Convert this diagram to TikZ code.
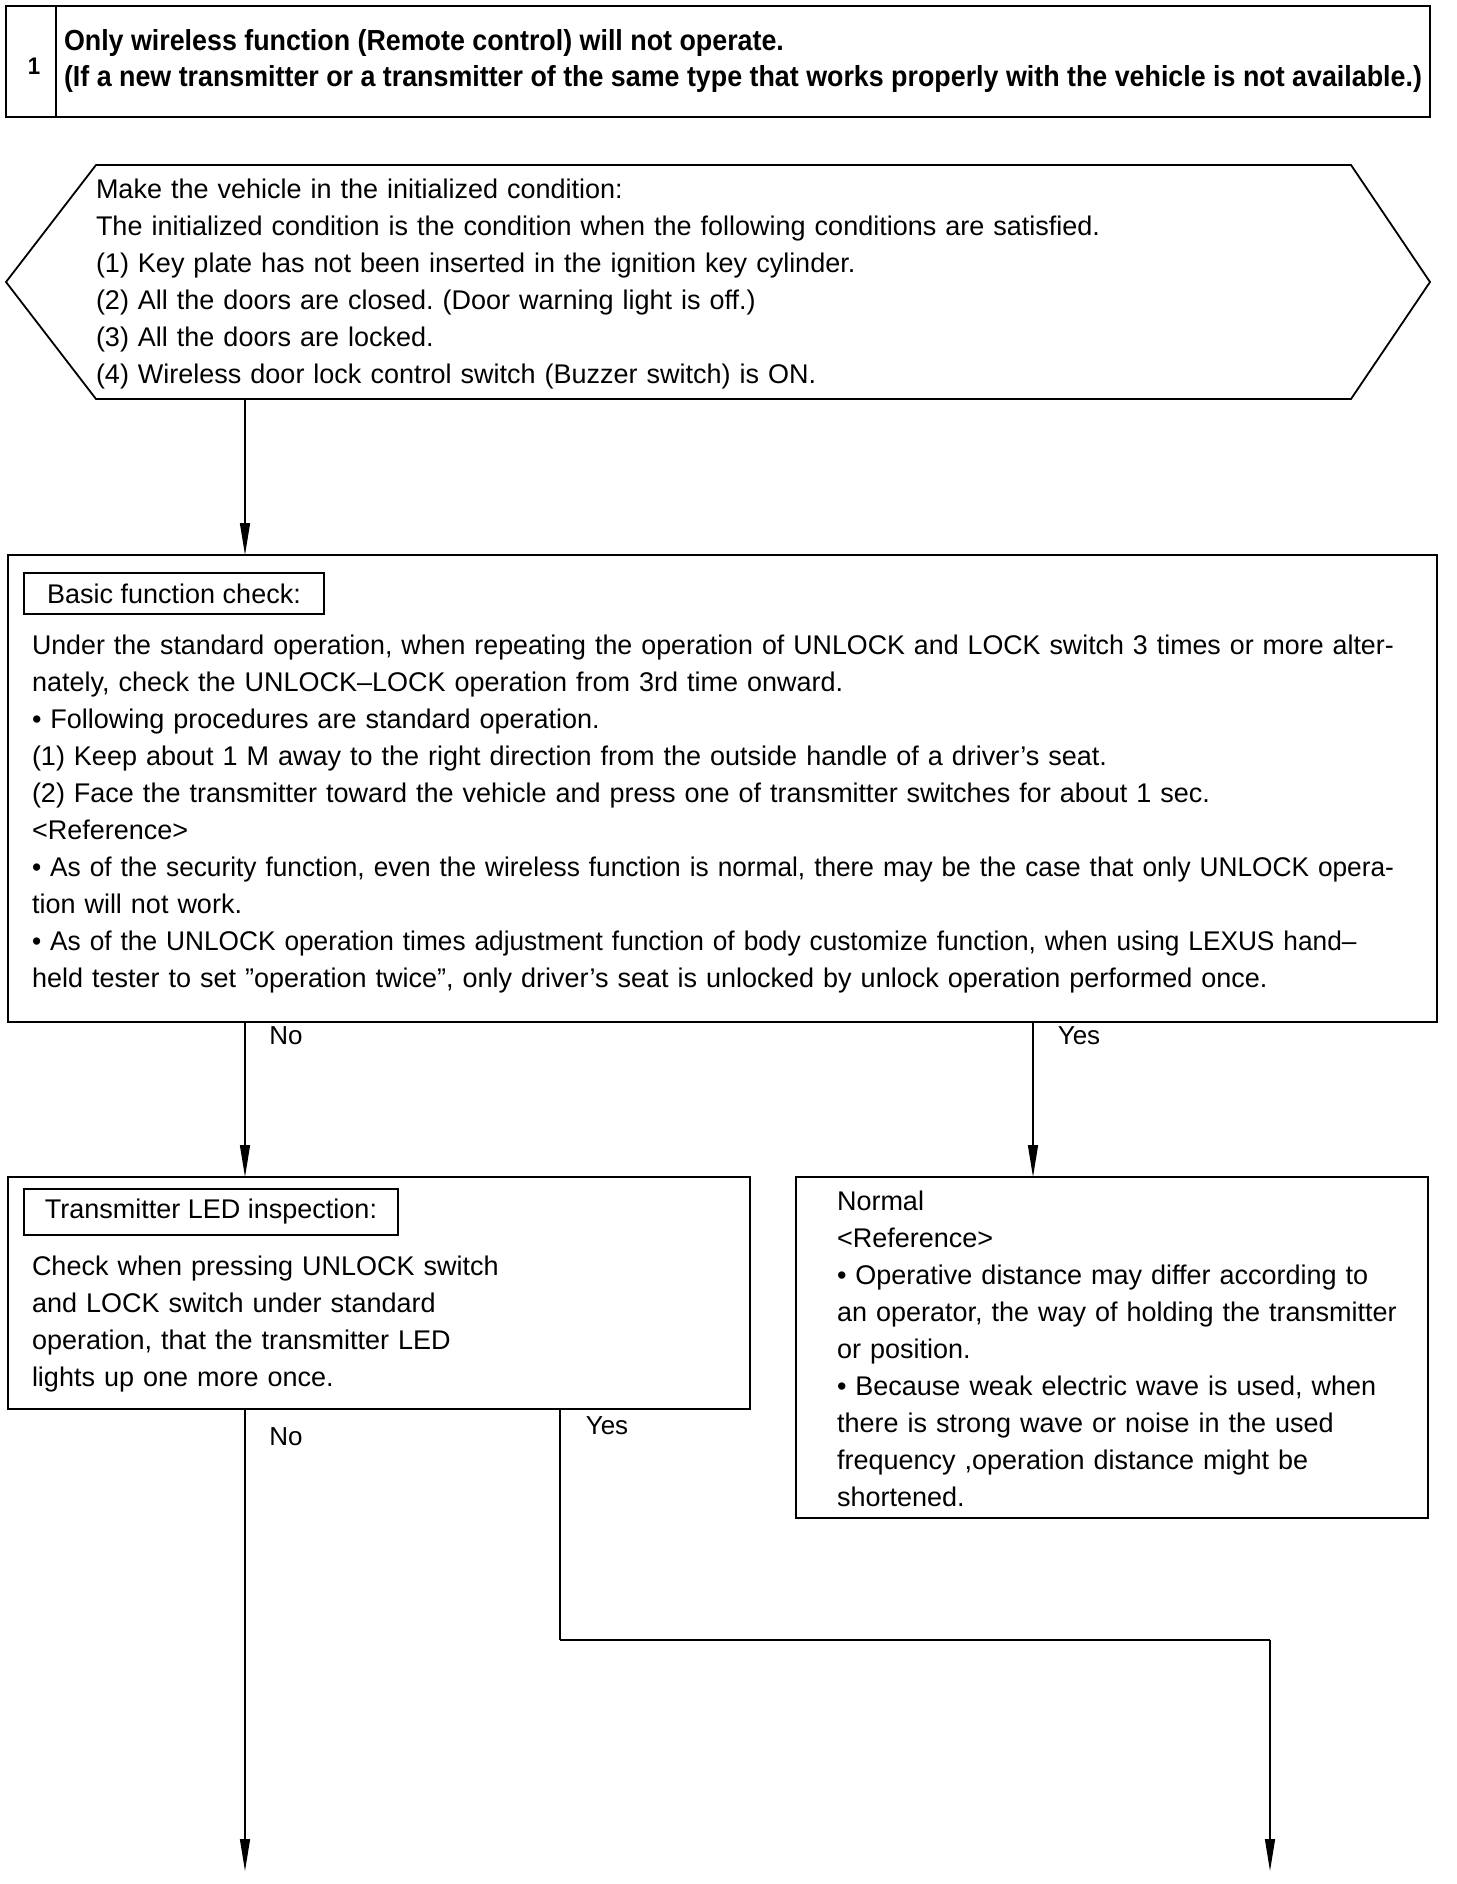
\documentclass[tikz,border=0pt]{standalone}
\usepackage{fontspec}
\setmainfont{Liberation Sans}
\newfontfamily\hdfont{Liberation Sans}[FakeStretch=0.925,Ligatures=TeX]
\newfontfamily\narrowfont{Liberation Sans}[FakeStretch=0.972,Ligatures=TeX]
\newfontfamily\slightfont{Liberation Sans}[FakeStretch=0.992,Ligatures=TeX]
\usetikzlibrary{arrows.meta}
\newcommand{\firststrut}{\rule{0pt}{24pt}}
\frenchspacing
\begin{document}
\begin{tikzpicture}[x=1pt,y=-1pt,
  every node/.style={inner sep=0pt, outer sep=0pt},
  panel/.style={draw, line width=1.8pt, anchor=north west},
  txt/.style={font=\frenchspacing\fontsize{27}{37}\selectfont, text width=#1, align=left, anchor=north west},
  hdtext/.style={font=\hdfont\bfseries\fontsize{29}{32}\selectfont, anchor=base west},
  lbl/.style={font=\fontsize{26}{30}\selectfont},
  conn/.style={line width=1.4pt},
  arr/.style={conn, -{Triangle[length=32pt,width=10pt]}}]
\useasboundingbox (0,0) rectangle (1456,1884);
\fill[white] (0,0) rectangle (1456,1884);

% header
\node[panel, line width=2.6pt, minimum width=1424pt, minimum height=111pt] (hdr) at (6,6) {};
\draw[line width=1.4pt] ([xshift=50pt]hdr.north west) -- ([xshift=50pt]hdr.south west);
\node[font=\hdfont\bfseries\fontsize{24}{26}\selectfont] (num) at (34,66) {1};
\node[hdtext] (h1) at (64,51) {Only wireless function (Remote control) will not operate.};
\node[hdtext] (h2) at (64,86) {(If a new transmitter or a transmitter of the same type that works properly with the vehicle is not available.)};

% hexagon
\node[minimum width=1424pt, minimum height=234pt, anchor=north west] (hex) at (6,165) {};
\draw[line width=1.8pt] (hex.west) -- ([xshift=90pt]hex.north west) -- ([xshift=-79pt]hex.north east)
  -- (hex.east) -- ([xshift=-79pt]hex.south east) -- ([xshift=90pt]hex.south west) -- cycle;
\node[txt=1250pt] (hext) at (96,174) {\firststrut Make the vehicle in the initialized condition:\\
The initialized condition is the condition when the following conditions are satisfied.\\
(1) Key plate has not been inserted in the ignition key cylinder.\\
(2) All the doors are closed. (Door warning light is off.)\\
(3) All the doors are locked.\\
(4) Wireless door lock control switch (Buzzer switch) is ON.};

% basic function check
\node[panel, minimum width=1429pt, minimum height=467pt] (basic) at (8,555) {};
\node[panel, line width=1.4pt, minimum width=300pt, minimum height=41pt, font=\fontsize{27}{30}\selectfont] (basict) at (24,573) {Basic function check:};
\node[txt=1400pt] (basicx) at (32,630) {\firststrut{\slightfont Under the standard operation, when repeating the operation of UNLOCK and LOCK switch 3 times or more alter-}\\
nately, check the UNLOCK–LOCK operation from 3rd time onward.\\
\textbullet\ Following procedures are standard operation.\\
(1) Keep about 1 M away to the right direction from the outside handle of a driver’s seat.\\
(2) Face the transmitter toward the vehicle and press one of transmitter switches for about 1 sec.\\
<Reference>\\
{\narrowfont\textbullet\ As of the security function, even the wireless function is normal, there may be the case that only UNLOCK opera-}\\
tion will not work.\\
{\narrowfont\textbullet\ As of the UNLOCK operation times adjustment function of body customize function, when using LEXUS hand–}\\
held tester to set "operation twice", only driver’s seat is unlocked by unlock operation performed once.};

% transmitter LED inspection
\node[panel, minimum width=742pt, minimum height=232pt] (tx) at (8,1177) {};
\node[panel, line width=1.4pt, minimum width=374pt, minimum height=46pt, font=\fontsize{27}{30}\selectfont] (txt) at (24,1189) {Transmitter LED inspection:};
\node[txt=700pt] (txx) at (32,1251) {\firststrut Check when pressing UNLOCK switch\\
and LOCK switch under standard\\
operation, that the transmitter LED\\
lights up one more once.};

% normal
\node[panel, minimum width=632pt, minimum height=341pt] (nrm) at (796,1177) {};
\node[txt=580pt] (nrmx) at (837,1186) {\firststrut Normal\\
<Reference>\\
\textbullet\ Operative distance may differ according to\\
an operator, the way of holding the transmitter\\
or position.\\
\textbullet\ Because weak electric wave is used, when\\
there is strong wave or noise in the used\\
frequency ,operation distance might be\\
shortened.};

% connectors
\coordinate (c1) at (245,399);
\coordinate (c2) at (1033,1022);
\coordinate (c3) at (560,1640);
\coordinate (end1) at (245,1871);
\coordinate (end2) at (1270,1871);
\draw[arr] (c1) -- (c1 |- basic.north);
\draw[arr] (c1 |- basic.south) -- (c1 |- tx.north);
\draw[arr] (c2) -- (c2 |- nrm.north);
\draw[arr] (c1 |- tx.south) -- (end1);
\draw[conn] (c3 |- tx.south) -- (c3);
\draw[line width=2.4pt] (c3) -- (c3 -| end2);
\draw[arr] (c3 -| end2) -- (end2);

% labels
\node[lbl] (l1) at (286,1036) {No};
\node[lbl] (l2) at (1079,1036) {Yes};
\node[lbl] (l3) at (286,1437) {No};
\node[lbl] (l4) at (607,1426) {Yes};
\end{tikzpicture}
\end{document}
